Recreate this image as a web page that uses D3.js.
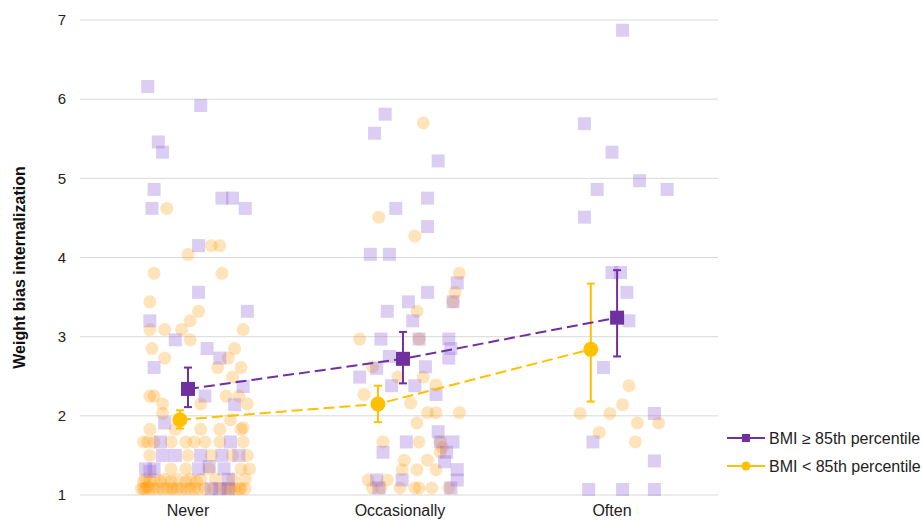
<!DOCTYPE html>
<html>
<head>
<meta charset="utf-8">
<script src="https://cdn.jsdelivr.net/npm/d3@7/dist/d3.min.js"></script>
<style>
  body { margin: 0; background: #fff; }
  svg { font-family: 'Liberation Sans', Arial, sans-serif; }
</style>
</head>
<body>
<svg id="chart" width="922" height="523"></svg>
<script>
var categories = ['Never', 'Occasionally', 'Often'];
var yTicks = [1, 2, 3, 4, 5, 6, 7];
var seriesNames = ['BMI \u2265 85th percentile', 'BMI < 85th percentile'];

// group means with 95% CI, one value per category
var highMean = [2.34, 2.72, 3.24];
var highLo = [2.11, 2.41, 2.75];
var highHi = [2.61, 3.06, 3.84];
var lowMean = [1.95, 2.15, 2.84];
var lowLo = [1.84, 1.92, 2.18];
var lowHi = [2.07, 2.38, 3.67];
// small dodge of the mean markers, in band units
var highShift = [0, 0.014, 0.024];
var lowShift = [-0.038, -0.104, -0.1];

// individual scores: [jitter (band units), score]
var neverHigh = [[-0.19,6.16],[0.06,5.92],[-0.14,5.46],[-0.12,5.33],[-0.16,4.86],[-0.17,4.62],[0.16,4.75],
  [0.21,4.75],[0.27,4.62],[0.05,4.15],[0.05,3.56],[0.28,3.32],[-0.18,3.2],[-0.06,2.96],[0.09,2.85],
  [0.15,2.73],[-0.16,2.61],[0.26,2.37],[0.08,2.25],[0.22,2.14],[-0.11,1.91],
  [0.11,1.08],[0.19,1.08],[0.15,1.08],[-0.2,1.33],[-0.16,1.33],[-0.18,1.3],[0.05,1.33],[0.17,1.33],
  [-0.12,1.5],[-0.06,1.5],[0.06,1.5],[0.16,1.5],[0.24,1.5],[-0.13,1.67],[0.2,1.67],[0.19,1.2],[0.1,1.36]];
var neverLow = [[-0.1,4.62],[0.11,4.15],[0.15,4.15],[0,4.04],[-0.16,3.8],[0.16,3.8],[-0.18,3.44],
  [0.05,3.32],[-0.18,3.09],[-0.11,3.09],[-0.03,3.09],[0.01,3.2],[0.26,3.09],[0.01,2.96],[-0.17,2.85],
  [-0.11,2.73],[0.22,2.85],[0.19,2.73],[0.14,2.61],[0.25,2.61],[0.21,2.49],[-0.18,2.25],[-0.16,2.25],
  [0.18,2.25],[0.24,2.25],[-0.12,2.15],[0.06,2.15],[0.28,2.15],[-0.12,2.03],[0.2,1.95],[0.26,1.85],
  [-0.18,1.83],[-0.06,1.83],[0.06,1.83],[0.15,1.83],[0.25,1.83],
  [-0.21,1.67],[-0.16,1.67],[-0.08,1.67],[-0.01,1.67],[0.08,1.67],[0.15,1.67],[0.26,1.67],[-0.19,1.67],[0.03,1.67],
  [-0.18,1.5],[0,1.5],[0.11,1.5],[0.21,1.5],[0.28,1.5],
  [-0.08,1.33],[-0.01,1.33],[0.1,1.33],[0.25,1.33],[0.29,1.33],
  [-0.2,1.2],[-0.16,1.2],[-0.11,1.2],[-0.05,1.2],[0.01,1.2],[0.06,1.2],[0.13,1.2],[0.21,1.2],[0.27,1.2],
  [-0.18,1.17],[-0.13,1.17],[-0.01,1.17],[-0.21,1.17],[-0.08,1.17],[0.04,1.17],
  [-0.22,1.08],[-0.18,1.08],[-0.14,1.08],[-0.1,1.08],[-0.07,1.08],[-0.03,1.08],[0.01,1.08],
  [0.05,1.08],[0.08,1.08],[0.12,1.08],[0.16,1.08],[0.2,1.08],[0.24,1.08],[0.27,1.08],
  [-0.2,1.08],[-0.16,1.08],[-0.08,1.08],[-0.01,1.08],[0.22,1.08],
  [-0.21,1.08],[-0.19,1.1],[-0.12,1.08],[-0.05,1.08],[0.03,1.08],[0.18,1.08],[0.25,1.08]];
var occHigh = [[-0.07,5.81],[-0.12,5.57],[0.18,5.22],[0.13,4.75],[-0.02,4.62],[0.13,4.39],[-0.14,4.04],
  [-0.05,4.04],[0.27,3.68],[0.13,3.56],[0.04,3.44],[0.25,3.44],[-0.06,3.32],[0.06,3.2],[-0.09,2.97],
  [0.09,2.97],[0.23,2.97],[0.24,2.85],[0.23,2.73],[-0.05,2.75],[0.12,2.62],[-0.11,2.6],[-0.19,2.49],
  [-0.04,2.38],[0.07,2.38],[0.17,2.27],[0.18,1.8],[0.03,1.67],[0.19,1.67],[0.25,1.67],[-0.08,1.54],
  [0.22,1.54],[0.21,1.42],[0.27,1.32],[-0.11,1.19],[0.01,1.19],[0.27,1.19],[-0.1,1.09],[0.24,1.09]];
var occLow = [[0.11,5.7],[-0.1,4.51],[0.07,4.27],[0.28,3.8],[0.26,3.56],[0.25,3.44],[0.08,3.32],
  [-0.19,2.97],[0.09,2.97],[-0.13,2.62],[-0.17,2.27],[0.05,2.16],[0.17,2.39],[0.11,2.49],[-0.01,2.49],
  [0.13,2.04],[0.17,2.04],[0.28,2.04],[0.08,1.91],[-0.08,1.67],[0.09,1.67],[0.19,1.67],[0.19,1.54],
  [0.02,1.44],[0.13,1.44],[0.08,1.32],[0.01,1.32],[0.17,1.32],[-0.15,1.19],[-0.06,1.19],
  [-0.13,1.09],[-0.09,1.09],[0,1.09],[0.07,1.09],[0.09,1.09],[0.15,1.09],[0.23,1.09],[0.2,1.6]];
var oftenHigh = [[0.05,6.87],[-0.13,5.69],[0,5.33],[0.13,4.97],[-0.07,4.86],[0.26,4.86],[-0.13,4.51],
  [0,3.81],[0.04,3.81],[0.07,3.56],[0.08,3.2],[-0.04,2.61],[0.2,2.03],[-0.09,1.67],[0.2,1.43],
  [-0.11,1.07],[0.05,1.07],[0.2,1.07]];
var oftenLow = [[0.08,2.38],[0.05,2.14],[-0.15,2.03],[-0.01,2.03],[0.12,1.91],[0.22,1.91],
  [-0.06,1.79],[0.11,1.67]];

var purple = '#7030a0', gold = '#ffc000';

var svg = d3.select('#chart');
var margin = { top: 20, right: 204, bottom: 28, left: 82 };
var width = 922 - margin.left - margin.right;
var height = 523 - margin.top - margin.bottom;

var x = d3.scaleBand().domain(categories).range([0, width]);
var y = d3.scaleLinear().domain([1, 7]).range([height, 0]);

var g = svg.append('g')
  .attr('transform', 'translate(' + margin.left + ',' + margin.top + ')');

function px(cat, j) {
  return x(cat) + x.bandwidth() / 2 + j * x.bandwidth();
}

// gridlines
g.append('g').selectAll('line')
  .data(yTicks)
  .enter().append('line')
  .attr('x1', -2).attr('x2', width)
  .attr('y1', function(d) { return y(d); })
  .attr('y2', function(d) { return y(d); })
  .style('stroke', '#d9d9d9')
  .style('stroke-width', 1);

// y tick labels
g.append('g').selectAll('text')
  .data(yTicks)
  .enter().append('text')
  .attr('x', -16)
  .attr('y', function(d) { return y(d); })
  .attr('dy', '.35em')
  .attr('text-anchor', 'end')
  .style('font-size', '15px')
  .style('fill', '#222')
  .text(function(d) { return d; });

// category labels
g.append('g').selectAll('text')
  .data(categories)
  .enter().append('text')
  .attr('x', function(d) { return x(d) + x.bandwidth() / 2; })
  .attr('y', height + 21)
  .attr('text-anchor', 'middle')
  .style('font-size', '16px')
  .style('fill', '#222')
  .text(function(d) { return d; });

svg.append('text')
  .attr('transform', 'translate(25,' + (margin.top + height / 2 + 10) + ') rotate(-90)')
  .attr('text-anchor', 'middle')
  .style('font-size', '16px')
  .style('font-weight', 'bold')
  .style('fill', '#111')
  .text('Weight bias internalization');

// scatter
var pts = g.append('g');
var lowSets = [neverLow, occLow, oftenLow];
var highSets = [neverHigh, occHigh, oftenHigh];
var s = 13;

categories.forEach(function(cat, i) {
  pts.selectAll('.lo' + i)
    .data(lowSets[i])
    .enter().append('circle')
    .attr('class', 'lo' + i)
    .attr('cx', function(d) { return px(cat, d[0]); })
    .attr('cy', function(d) { return y(d[1]); })
    .attr('r', s / 2)
    .style('fill', '#ff9600')
    .style('fill-opacity', 0.27);
});
categories.forEach(function(cat, i) {
  pts.selectAll('.hi' + i)
    .data(highSets[i])
    .enter().append('rect')
    .attr('class', 'hi' + i)
    .attr('x', function(d) { return px(cat, d[0]) - s / 2; })
    .attr('y', function(d) { return y(d[1]) - s / 2; })
    .attr('width', s).attr('height', s)
    .style('fill', '#8a5cd6')
    .style('fill-opacity', 0.3);
});

// means, lines, error bars
function drawSeries(mean, lo, hi, shift, col, square) {
  var data = categories.map(function(c, i) {
    return { x: px(c, shift[i]), m: mean[i], lo: lo[i], hi: hi[i] };
  });
  var line = d3.line().x(function(d) { return d.x; }).y(function(d) { return y(d.m); });
  var sg = g.append('g');
  sg.append('path')
    .attr('d', line(data))
    .style('fill', 'none')
    .style('stroke', col)
    .style('stroke-width', 2)
    .style('stroke-dasharray', '11,5');
  var eb = sg.selectAll('.eb').data(data).enter().append('g');
  eb.append('line')
    .attr('x1', function(d) { return d.x; }).attr('x2', function(d) { return d.x; })
    .attr('y1', function(d) { return y(d.lo); }).attr('y2', function(d) { return y(d.hi); })
    .style('stroke', col).style('stroke-width', 2);
  [function(d) { return y(d.lo); }, function(d) { return y(d.hi); }].forEach(function(f) {
    eb.append('line')
      .attr('x1', function(d) { return d.x - 4; }).attr('x2', function(d) { return d.x + 4; })
      .attr('y1', f).attr('y2', f)
      .style('stroke', col).style('stroke-width', 2);
  });
  if (square) {
    eb.append('rect')
      .attr('x', function(d) { return d.x - 7; })
      .attr('y', function(d) { return y(d.m) - 7; })
      .attr('width', 14).attr('height', 14)
      .style('fill', col);
  } else {
    eb.append('circle')
      .attr('cx', function(d) { return d.x; })
      .attr('cy', function(d) { return y(d.m); })
      .attr('r', 7.5)
      .style('fill', col);
  }
}
drawSeries(lowMean, lowLo, lowHi, lowShift, gold, false);
drawSeries(highMean, highLo, highHi, highShift, purple, true);

// legend
var legend = svg.append('g').attr('transform', 'translate(727,438)');
[purple, gold].forEach(function(col, i) {
  var row = legend.append('g').attr('transform', 'translate(0,' + (i * 28) + ')');
  row.append('line').attr('x1', 0).attr('x2', 38).attr('y1', 0).attr('y2', 0)
    .style('stroke', col).style('stroke-width', 2);
  if (i === 0) {
    row.append('rect').attr('x', 15).attr('y', -4).attr('width', 8).attr('height', 8).style('fill', col);
  } else {
    row.append('circle').attr('cx', 19).attr('cy', 0).attr('r', 4.5).style('fill', col);
  }
  row.append('text').attr('x', 42).attr('dy', '.35em')
    .style('font-size', '16px').style('fill', '#222')
    .text(seriesNames[i]);
});
</script>
</body>
</html>
